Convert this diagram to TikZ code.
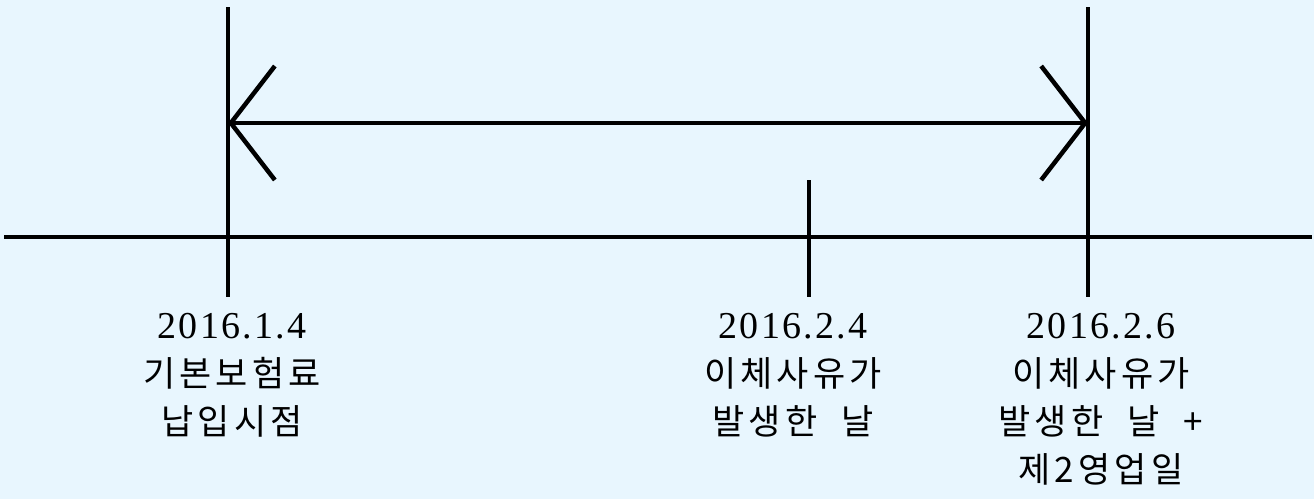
\documentclass[tikz,border=0pt]{standalone}
\usepackage{fontspec}
\newfontfamily\krfont[LetterSpace=12,WordSpace=2]{Noto Sans CJK KR}
\newfontfamily\datefont[LetterSpace=6]{Liberation Serif}
\usetikzlibrary{positioning,arrows.meta}
\definecolor{bgblue}{RGB}{232,246,254}
\tikzset{
axis/.style={line width=4.5pt},
tick/.style={line width=4.5pt},
span/.style={line width=4.5pt, {Straight Barb[length=44pt,width=114pt]}-{Straight Barb[length=44pt,width=114pt]}},
label/.style={align=center, inner sep=0pt, font=\fontsize{35}{48}\krfont}
}
\newcommand{\dateline}[1]{{\fontsize{38}{48}\datefont #1}}

\begin{document}
\begin{tikzpicture}[x=1pt,y=1pt,yscale=-1,xscale=1]
\fill[bgblue] (0,0) rectangle (1314,499);
\useasboundingbox (0,0) rectangle (1314,499);

% axis and ticks
\coordinate (axisL) at (4,237);
\coordinate (axisR) at (1312,237);
\coordinate (startTop) at (228,7);
\coordinate (startBot) at (228,297);
\coordinate (midTop) at (809,180);
\coordinate (midBot) at (809,297);
\coordinate (endTop) at (1088,7);
\coordinate (endBot) at (1088,297);
\coordinate (spanL) at (228,123);
\coordinate (spanR) at (1088,123);

\draw[axis] (axisL) -- (axisR);
\draw[tick] (startTop) -- (startBot);
\draw[tick] (midTop) -- (midBot);
\draw[tick] (endTop) -- (endBot);
\draw[span] (spanL) -- (spanR);

% labels
\node[label] (startLbl) at (232,375) {\dateline{2016.1.4}\\기본보험료\\납입시점};
\node[label] (midLbl) at (793,375) {\dateline{2016.2.4}\\이체사유가\\발생한 날};
\node[label] (endLbl) at (1101,399) {\dateline{2016.2.6}\\이체사유가\\발생한 날 +\\제2영업일};

\end{tikzpicture}
\end{document}
